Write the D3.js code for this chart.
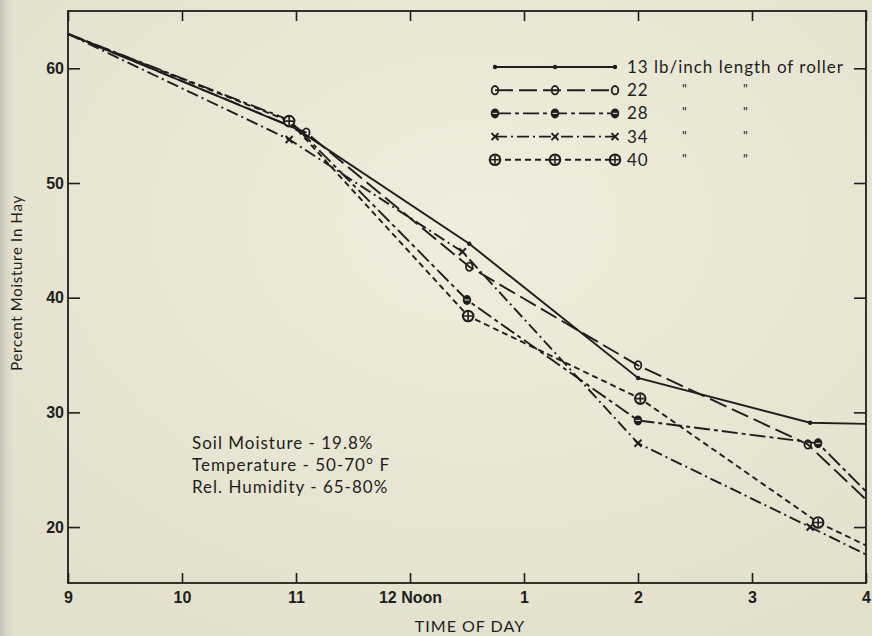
<!DOCTYPE html>
<html>
<head>
<meta charset="utf-8">
<script src="https://cdn.jsdelivr.net/npm/d3@7"></script>
<style>
  body { margin: 0; background: #e8e4d1; }
  svg { display: block; font-family: Lato, "Noto Sans", sans-serif; }
  .axis path.domain { display: none; }
  .axis line { stroke: #1e1e1e; stroke-width: 1.6; }
  .axis text { font-size: 16px; font-weight: bold; fill: #1e1e1e; }
</style>
</head>
<body>
<svg width="872" height="636"></svg>
<script>
// series (lb/inch length of roller)
var series = ["13", "22", "28", "34", "40"];

// time of day in hours (13 = 1 pm) and percent moisture read for each series
var time13 = [9, 11.01, 12.52, 14.0, 15.51, 16];
var moist13 = [63, 54.7, 44.7, 33.0, 29.1, 29.0];
var time22 = [9, 11.09, 12.52, 14.0, 15.49, 16];
var moist22 = [63, 54.4, 42.7, 34.1, 27.2, 22.4];
var time28 = [9, 10.94, 12.5, 14.0, 15.58, 16];
var moist28 = [63, 55.5, 39.8, 29.3, 27.3, 23.1];
var time34 = [9, 10.94, 12.46, 14.0, 15.51, 16];
var moist34 = [63, 53.8, 44.0, 27.3, 20.0, 17.6];
var time40 = [9, 10.94, 12.51, 14.02, 15.58, 16];
var moist40 = [63, 55.4, 38.4, 31.2, 20.4, 18.4];

var xTicks = [9, 10, 11, 12, 13, 14, 15, 16];
var xTickLabels = ["9", "10", "11", "12 Noon", "1", "2", "3", "4"];
var yTicks = [20, 30, 40, 50, 60];

var legendLabels = ["13 lb/inch length of roller", "22", "28", "34", "40"];
var notes = ["Soil Moisture - 19.8%", "Temperature - 50-70\u00b0 F", "Rel. Humidity - 65-80%"];

var times = [time13, time22, time28, time34, time40];
var moists = [moist13, moist22, moist28, moist34, moist40];
var dashes = [null, "18,6", "16,4,4,4", "12,4,2,4", "6,4"];

var svg = d3.select("svg");
var ink = "#1e1e1e";

// paper shading
var defs = svg.append("defs");
var rg = defs.append("radialGradient").attr("id", "paper").attr("cx", "55%").attr("cy", "35%").attr("r", "75%");
rg.append("stop").attr("offset", "0%").attr("stop-color", "#f0eddc");
rg.append("stop").attr("offset", "100%").attr("stop-color", "#e2dfcb");
var lg = defs.append("linearGradient").attr("id", "edge");
lg.append("stop").attr("offset", "0%").attr("stop-color", "#c4c2b5");
lg.append("stop").attr("offset", "100%").attr("stop-color", "#e2dfcb").attr("stop-opacity", 0);
svg.append("rect").attr("width", 872).attr("height", 636).attr("fill", "url(#paper)");
svg.append("rect").attr("width", 16).attr("height", 636).attr("fill", "url(#edge)");

var x = d3.scaleLinear().domain([9, 16]).range([68, 866]);
var y = d3.scaleLinear().domain([15.12, 65]).range([583, 11]);

// frame
svg.append("rect")
    .attr("x", x(9)).attr("y", y(65))
    .attr("width", x(16) - x(9)).attr("height", y(15.12) - y(65))
    .attr("fill", "none").attr("stroke", ink).attr("stroke-width", 1.8);

svg.append("g").attr("class", "axis")
    .attr("transform", "translate(0," + y(15.12) + ")")
    .call(d3.axisBottom(x).tickValues(xTicks).tickSize(-10).tickPadding(9)
      .tickFormat(function(d, i) { return xTickLabels[i]; }));
svg.append("g").attr("class", "axis")
    .attr("transform", "translate(0," + y(65) + ")")
    .call(d3.axisTop(x).tickValues(xTicks).tickSize(-10).tickFormat(""));
svg.append("g").attr("class", "axis")
    .attr("transform", "translate(" + x(9) + ",0)")
    .call(d3.axisLeft(y).tickValues(yTicks).tickSize(-12).tickPadding(4));
svg.append("g").attr("class", "axis")
    .attr("transform", "translate(" + x(16) + ",0)")
    .call(d3.axisRight(y).tickValues(yTicks).tickSize(-12).tickFormat(""));

// axis titles
svg.append("text")
    .attr("x", 470).attr("y", 632)
    .attr("text-anchor", "middle")
    .attr("font-size", 16).attr("letter-spacing", 1).attr("fill", ink)
    .text("TIME OF DAY");
svg.append("text")
    .attr("transform", "translate(22,283) rotate(-90)")
    .attr("text-anchor", "middle")
    .attr("font-size", 15).attr("letter-spacing", 0.7).attr("fill", ink)
    .text("Percent Moisture In Hay");

function marker(g, k, cx, cy) {
  if (k == 0) {
    g.append("circle").attr("cx", cx).attr("cy", cy).attr("r", 2.2).attr("fill", ink);
  } else if (k == 1) {
    g.append("ellipse").attr("cx", cx).attr("cy", cy).attr("rx", 3.3).attr("ry", 4.2)
      .attr("fill", "none").attr("stroke", ink).attr("stroke-width", 1.8);
  } else if (k == 2) {
    g.append("ellipse").attr("cx", cx).attr("cy", cy).attr("rx", 4.2).attr("ry", 5)
      .attr("fill", ink);
    g.append("line").attr("x1", cx - 2.4).attr("x2", cx + 2.4).attr("y1", cy).attr("y2", cy)
      .attr("stroke", "#d8d4c2").attr("stroke-width", 1.1);
  } else if (k == 3) {
    g.append("path")
      .attr("d", "M" + (cx - 3.5) + "," + (cy - 3.5) + "L" + (cx + 3.5) + "," + (cy + 3.5) +
                 "M" + (cx + 3.5) + "," + (cy - 3.5) + "L" + (cx - 3.5) + "," + (cy + 3.5))
      .attr("stroke", ink).attr("stroke-width", 2);
  } else {
    g.append("circle").attr("cx", cx).attr("cy", cy).attr("r", 5.2)
      .attr("fill", "#ece8d6").attr("stroke", ink).attr("stroke-width", 2.2);
    g.append("path")
      .attr("d", "M" + (cx - 4) + "," + cy + "L" + (cx + 4) + "," + cy +
                 "M" + cx + "," + (cy - 4) + "L" + cx + "," + (cy + 4))
      .attr("stroke", ink).attr("stroke-width", 1.6);
  }
}

var line = d3.line()
    .x(function(d) { return x(d.t); })
    .y(function(d) { return y(d.v); });

series.forEach(function(s, k) {
  var pts = times[k].map(function(t, i) { return {t: t, v: moists[k][i]}; });
  svg.append("path")
      .datum(pts)
      .attr("d", line)
      .attr("fill", "none")
      .attr("stroke", ink)
      .attr("stroke-width", 1.9)
      .attr("stroke-dasharray", dashes[k]);
  var g = svg.append("g");
  pts.slice(1, pts.length - 1).forEach(function(p) { marker(g, k, x(p.t), y(p.v)); });
});

// legend
var legend = svg.append("g");
series.forEach(function(s, k) {
  var ly = 67 + k * 23.2;
  legend.append("line")
      .attr("x1", 495).attr("x2", 615).attr("y1", ly).attr("y2", ly)
      .attr("stroke", ink).attr("stroke-width", 1.9)
      .attr("stroke-dasharray", dashes[k]);
  [495, 555, 615].forEach(function(mx) { marker(legend, k, mx, ly); });
  legend.append("text")
      .attr("x", 627).attr("y", ly + 6)
      .attr("font-size", 17).attr("letter-spacing", 1).attr("fill", ink)
      .text(legendLabels[k]);
  if (k > 0) {
    [682, 743].forEach(function(dx) {
      legend.append("text")
          .attr("x", dx).attr("y", ly + 4)
          .attr("font-size", 13).attr("fill", ink)
          .text("\"");
    });
  }
});

// test conditions
svg.append("g").selectAll("text")
    .data(notes)
    .enter().append("text")
      .attr("x", 192)
      .attr("y", function(d, i) { return 449 + i * 22; })
      .attr("font-size", 17).attr("letter-spacing", 1).attr("fill", ink)
      .text(function(d) { return d; });
</script>
</body>
</html>
